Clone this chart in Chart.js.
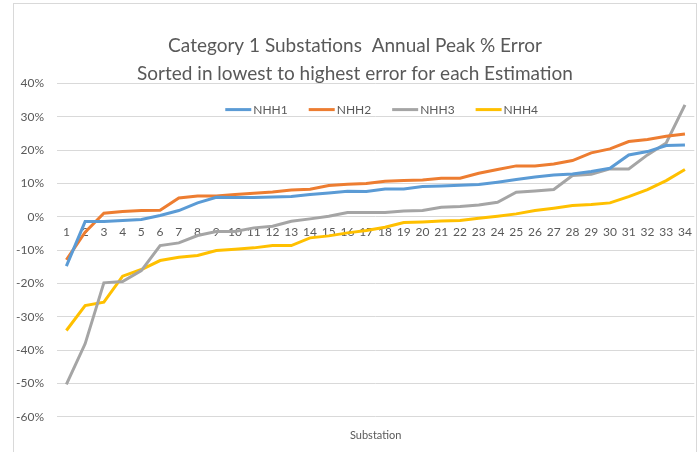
<!DOCTYPE html>
<html>
<head>
<meta charset="utf-8">
<script src="https://cdn.jsdelivr.net/npm/chart.js@4.4.1/dist/chart.umd.min.js"></script>
<style>
  body { margin: 0; background: #fff; }
  #wrap { position: relative; width: 700px; height: 452px; }
  #frame { position: absolute; left: 13px; top: 3px; width: 684px; height: 452px; border: 1px solid #D9D9D9; box-sizing: border-box; pointer-events: none; }
</style>
</head>
<body>
<div id="wrap">
  <canvas id="myChart" width="700" height="452"></canvas>
  <div id="frame"></div>
</div>
<script>
// Substation index 1..34
const substations = [];
for (let i = 1; i <= 34; i++) substations.push(String(i));

// % error, sorted lowest to highest for each estimation
const nhh1 = [-14.8, -1.4, -1.4, -1.1, -0.8, 0.4, 1.9, 4.2, 5.9, 5.8, 5.8, 6.0, 6.1, 6.7, 7.2, 7.7, 7.6, 8.4, 8.4, 9.1,
              9.3, 9.5, 9.7, 10.4, 11.2, 12.0, 12.6, 12.9, 13.6, 14.6, 18.6, 19.6, 21.4, 21.6];
const nhh2 = [-12.9, -4.6, 1.1, 1.6, 1.9, 2.0, 5.7, 6.3, 6.3, 6.7, 7.1, 7.5, 8.1, 8.3, 9.4, 9.8, 10.0, 10.7, 10.9, 11.1,
              11.6, 11.6, 13.1, 14.2, 15.3, 15.3, 15.9, 16.9, 19.2, 20.4, 22.6, 23.2, 24.2, 24.9];
const nhh3 = [-50.3, -38.1, -19.8, -19.4, -16.1, -8.6, -7.8, -5.6, -4.4, -4.4, -3.3, -2.8, -1.3, -0.6, 0.2, 1.3, 1.3, 1.3, 1.8, 1.9,
              2.9, 3.1, 3.6, 4.4, 7.4, 7.8, 8.2, 12.4, 12.8, 14.4, 14.4, 18.6, 22.2, 33.6];
const nhh4 = [-34.1, -26.6, -25.6, -17.8, -15.8, -13.1, -12.1, -11.6, -10.1, -9.7, -9.3, -8.6, -8.6, -6.3, -5.7, -4.8, -4.1, -3.1, -1.7, -1.5,
              -1.2, -1.1, -0.4, 0.2, 0.9, 1.9, 2.6, 3.4, 3.7, 4.2, 6.1, 8.2, 10.9, 14.2];

const seriesNames = ['NHH1', 'NHH2', 'NHH3', 'NHH4'];
const seriesColors = ['#5B9BD5', '#ED7D31', '#A5A5A5', '#FFC000'];

const textColor = '#595959';
const gridColor = '#D9D9D9';
const fontFamily = 'Lato, "Open Sans", sans-serif';

const ctx = document.getElementById('myChart').getContext('2d');

const datasets = [nhh1, nhh2, nhh3, nhh4].map((values, i) => ({
    label: seriesNames[i],
    data: values,
    borderColor: seriesColors[i],
    backgroundColor: seriesColors[i],
    borderWidth: 3,
    pointRadius: 0,
    tension: 0,
    fill: false
}));

// Legend drawn inside the plot area, in one row, like the Excel original
const insideLegend = {
    id: 'insideLegend',
    afterDatasetsDraw(chart) {
        const c = chart.ctx;
        const area = chart.chartArea;
        const lineLen = 26, textGap = 2, itemGap = 21;
        c.save();
        c.font = '12px ' + fontFamily;
        c.textBaseline = 'middle';
        const widths = chart.data.datasets.map(ds => lineLen + textGap + c.measureText(ds.label).width);
        const total = widths.reduce((a, b) => a + b, 0) + itemGap * (widths.length - 1);
        let x = (area.left + area.right) / 2 - total / 2 + 6;
        const y = area.top + 26;
        chart.data.datasets.forEach((ds, i) => {
            c.strokeStyle = ds.borderColor;
            c.lineWidth = 3;
            c.beginPath();
            c.moveTo(x, y);
            c.lineTo(x + lineLen, y);
            c.stroke();
            c.fillStyle = textColor;
            c.fillText(ds.label, x + lineLen + textGap, y + 1);
            x += widths[i] + itemGap;
        });
        c.restore();
    }
};

const myChart = new Chart(ctx, {
    type: 'line',
    data: {
        labels: substations,
        datasets: datasets
    },
    plugins: [insideLegend],
    options: {
        responsive: false,
        animation: false,
        events: [],
        layout: {
            padding: { left: 13, right: 3, top: 0, bottom: 6 }
        },
        plugins: {
            title: {
                display: true,
                text: 'Category 1 Substations  Annual Peak % Error',
                color: textColor,
                font: { family: fontFamily, size: 19, weight: 'normal', lineHeight: 1.2 },
                padding: { top: 34, bottom: 6 }
            },
            subtitle: {
                display: true,
                text: 'Sorted in lowest to highest error for each Estimation',
                color: textColor,
                font: { family: fontFamily, size: 19, weight: 'normal', lineHeight: 1.2 },
                padding: { top: 0, bottom: -2 }
            },
            legend: { display: false },
            tooltip: { enabled: false }
        },
        scales: {
            x: {
                type: 'category',
                position: { y: 0 },
                offset: true,
                grid: { display: false, drawTicks: false },
                border: { display: false },
                ticks: {
                    autoSkip: false,
                    maxRotation: 0,
                    padding: 8,
                    color: textColor,
                    font: { family: fontFamily, size: 12 }
                }
            },
            x2: {
                type: 'category',
                position: 'bottom',
                labels: substations,
                offset: true,
                grid: { display: false, drawTicks: false },
                border: { display: false },
                ticks: { display: false },
                title: {
                    display: true,
                    text: 'Substation',
                    color: textColor,
                    font: { family: fontFamily, size: 11 },
                    padding: { top: 12, bottom: 4 }
                }
            },
            y: {
                min: -60,
                max: 40,
                grid: { color: gridColor, drawTicks: false, lineWidth: 1 },
                border: { display: false },
                ticks: {
                    stepSize: 10,
                    padding: 13,
                    color: textColor,
                    font: { family: fontFamily, size: 12 },
                    callback: (v) => v + '%'
                },
                afterFit: (scale) => { scale.width = 44; }
            }
        }
    }
});
</script>
</body>
</html>
